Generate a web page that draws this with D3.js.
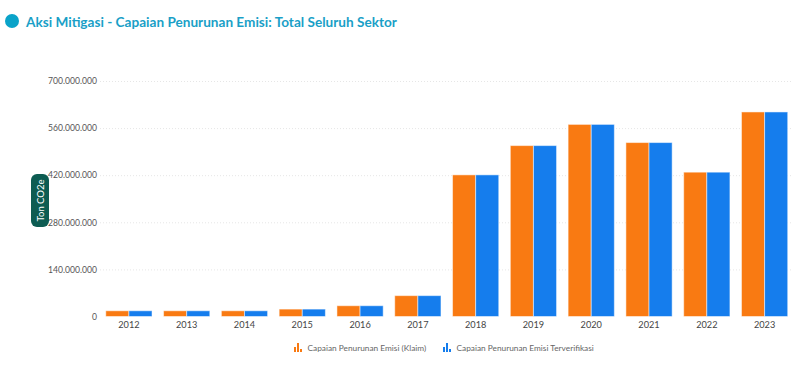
<!DOCTYPE html>
<html>
<head>
<meta charset="utf-8">
<script src="https://cdn.jsdelivr.net/npm/d3@7"></script>
<style>
  body { margin: 0; background: #fff; }
  svg text { font-family: Lato, "Noto Sans", sans-serif; }
</style>
</head>
<body>
<svg id="chart" width="807" height="389"></svg>
<script>

// data
var years = ["2012","2013","2014","2015","2016","2017","2018","2019","2020","2021","2022","2023"];
var klaim = [17000000, 17000000, 17000000, 22000000, 32000000, 62000000, 421000000, 508000000, 571000000, 517000000, 429000000, 608000000];
var terverifikasi = [17000000, 17000000, 17000000, 22000000, 32000000, 62000000, 421000000, 508000000, 571000000, 517000000, 429000000, 608000000];
var yTicks = [0, 140000000, 280000000, 420000000, 560000000, 700000000];
var seriesNames = ["Capaian Penurunan Emisi (Klaim)", "Capaian Penurunan Emisi Terverifikasi"];
var colors = ["#f97a12", "#157ded"];

var svg = d3.select("#chart");
var font = "Lato, \"Noto Sans\", sans-serif";

// title
svg.append("circle").attr("cx", 12).attr("cy", 21).attr("r", 7).attr("fill", "#0aa3c9");
svg.append("text")
    .attr("x", 26).attr("y", 26.5)
    .attr("font-size", 13.6).attr("font-weight", "bold")
    .attr("fill", "#1a9fc7")
    .text("Aksi Mitigasi - Capaian Penurunan Emisi: Total Seluruh Sektor");

// scales
var x = d3.scaleBand().domain(years).range([100, 793.5]).paddingInner(0.2).paddingOuter(0.1);
var xSub = d3.scaleBand().domain([0, 1]).range([0, x.bandwidth()]);
var y = d3.scaleLinear().domain([0, 700000000]).range([316.5, 81]);

var fmt = function (d) { return d3.format(",")(d).replace(/,/g, "."); };

// gridlines
svg.append("g").selectAll("line")
    .data(yTicks.filter(function (d) { return d > 0; }))
    .join("line")
    .attr("x1", 100).attr("x2", 793)
    .attr("y1", function (d) { return y(d) + 0.5; })
    .attr("y2", function (d) { return y(d) + 0.5; })
    .attr("stroke", "#e6e6e6")
    .attr("stroke-dasharray", "1,2");

// y axis labels
var yAxis = d3.axisLeft(y).tickValues(yTicks).tickFormat(fmt).tickSize(0).tickPadding(0);
var gy = svg.append("g").attr("transform", "translate(97,0)").call(yAxis);
gy.select(".domain").remove();
gy.selectAll("text").attr("font-size", 8.6).attr("fill", "#555")
    .attr("font-family", font);

// y axis title pill
svg.append("rect").attr("x", 31).attr("y", 174).attr("width", 18).attr("height", 53)
    .attr("rx", 6).attr("fill", "#0d5c52");
svg.append("text")
    .attr("transform", "translate(43.5,200.5) rotate(-90)")
    .attr("text-anchor", "middle")
    .attr("font-size", 9.5).attr("fill", "#fff")
    .text("Ton CO2e");

// bars
var groups = svg.append("g").selectAll("g")
    .data(years)
    .join("g")
    .attr("transform", function (d) { return "translate(" + x(d) + ",0)"; });

groups.selectAll("rect")
    .data(function (d, i) { return [klaim[i], terverifikasi[i]]; })
    .join("rect")
    .attr("x", function (d, j) { return xSub(j); })
    .attr("width", xSub.bandwidth())
    .attr("y", function (d) { return y(d); })
    .attr("height", function (d) { return y(0) - y(d); })
    .attr("fill", function (d, j) { return colors[j]; })
    .attr("stroke", "rgba(255,255,255,0.5)")
    .attr("stroke-width", 1);

// x axis labels
var xAxis = d3.axisBottom(x).tickSize(0).tickPadding(4);
var gx = svg.append("g").attr("transform", "translate(0,317)").call(xAxis);
gx.select(".domain").remove();
gx.selectAll("text").attr("font-size", 9.2).attr("fill", "#444")
    .attr("font-family", font);

// legend
var legendX = [294, 443];
var legend = svg.append("g").selectAll("g")
    .data(seriesNames)
    .join("g")
    .attr("transform", function (d, i) { return "translate(" + legendX[i] + ",343)"; });

legend.each(function (d, i) {
    var g = d3.select(this);
    [[0, 4, 5], [3, 0, 9], [6, 6, 3]].forEach(function (b) {
        g.append("rect").attr("x", b[0]).attr("y", b[1]).attr("width", 2).attr("height", b[2])
            .attr("fill", colors[i]);
    });
    g.append("text").attr("x", 13.5).attr("y", 8)
        .attr("font-size", 8.3).attr("fill", "#666")
        .attr("font-family", "\"Noto Sans\", sans-serif").text(d);
});

</script>
</body>
</html>
